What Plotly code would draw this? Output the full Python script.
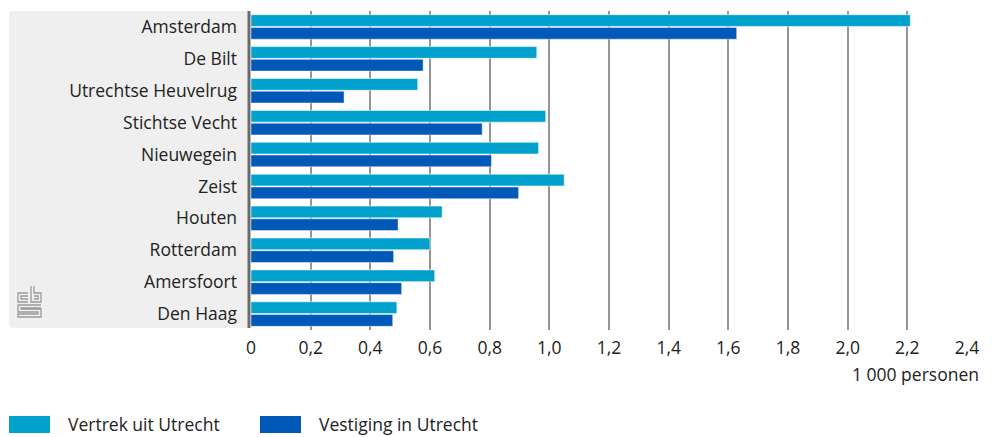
import plotly.graph_objects as go

# ---- data ----
categories = ["Amsterdam", "De Bilt", "Utrechtse Heuvelrug", "Stichtse Vecht", "Nieuwegein",
              "Zeist", "Houten", "Rotterdam", "Amersfoort", "Den Haag"]
vertrek = [2.21, 0.958, 0.559, 0.988, 0.964, 1.050, 0.641, 0.600, 0.616, 0.489]
vestiging = [1.628, 0.577, 0.312, 0.775, 0.806, 0.897, 0.493, 0.478, 0.505, 0.475]
series_names = ["Vertrek uit Utrecht", "Vestiging in Utrecht"]
x_ticks = [0, 0.2, 0.4, 0.6, 0.8, 1.0, 1.2, 1.4, 1.6, 1.8, 2.0, 2.2, 2.4]
x_unit = "1 000 personen"

# ---- style ----
W, H = 992, 437
ML, MR, MT, MB = 251, 25, 11, 107
PW, PH = W - ML - MR, H - MT - MB
LIGHT, DARK = "#00a1cd", "#0058b8"
FONT = "Open Sans"
FS = 17.5
TXT = "#222222"


def px(x):
    return (x - ML) / PW


def py(y):
    return (H - MB - y) / PH


fig = go.Figure()
fig.add_trace(go.Bar(y=categories, x=vertrek, orientation="h", name=series_names[0],
                     marker=dict(color=LIGHT, line=dict(color="rgba(255,255,255,0.55)", width=1)),
                     showlegend=False))
fig.add_trace(go.Bar(y=categories, x=vestiging, orientation="h", name=series_names[1],
                     marker=dict(color=DARK, line=dict(color="rgba(255,255,255,0.45)", width=1)),
                     showlegend=False))

shapes = []
# grey label panel with rounded corners
x0, x1, y0, y1, r = 9, 250, 11, 328, 5
path = (f"M {px(x0 + r)},{py(y0)} L {px(x1)},{py(y0)} L {px(x1)},{py(y1)} L {px(x0 + r)},{py(y1)} "
        f"Q {px(x0)},{py(y1)} {px(x0)},{py(y1 - r)} L {px(x0)},{py(y0 + r)} "
        f"Q {px(x0)},{py(y0)} {px(x0 + r)},{py(y0)} Z")
shapes.append(dict(type="path", xref="paper", yref="paper", path=path,
                   fillcolor="#efefef", line=dict(width=0), layer="below"))
# left axis bar
shapes.append(dict(type="line", xref="paper", yref="paper", x0=px(249), x1=px(249),
                   y0=py(11), y1=py(328), line=dict(color="#6b6b6b", width=3)))

# cbs logo (approximation)
logo_paths = [
    [(28, 293), (18, 293), (18, 302), (28, 302)],
    [(28, 296), (21, 296), (21, 299), (28, 299)],
    [(31, 286), (31, 302), (41, 302), (41, 293), (34, 293), (34, 286)],
    [(34, 296), (38, 296), (38, 299), (34, 299)],
    [(41, 305), (18, 305), (18, 312), (38, 312), (38, 314), (18, 314), (18, 317), (41, 317), (41, 309), (21, 309), (21, 308), (41, 308)],
]
for pts in logo_paths:
    d = "M " + " L ".join(f"{px(a)},{py(b)}" for a, b in pts)
    shapes.append(dict(type="path", xref="paper", yref="paper", path=d,
                       line=dict(color="#9b9b9b", width=1.3)))

# legend swatches
legend_items = [(9, 50, 66, LIGHT, series_names[0]), (260, 301, 317, DARK, series_names[1])]
annotations = []
for sx0, sx1, tx, col, name in legend_items:
    shapes.append(dict(type="rect", xref="paper", yref="paper", x0=px(sx0), x1=px(sx1),
                       y0=py(416), y1=py(433), fillcolor=col, line=dict(width=0)))
    annotations.append(dict(x=px(tx), y=py(424), xref="paper", yref="paper", text=name,
                            showarrow=False, xanchor="left", yanchor="middle",
                            font=dict(family=FONT, size=FS, color=TXT)))

annotations.append(dict(x=px(981), y=py(374), xref="paper", yref="paper", text=x_unit,
                        showarrow=False, xanchor="right", yanchor="middle",
                        font=dict(family=FONT, size=FS, color=TXT)))

fig.update_layout(
    width=W, height=H,
    margin=dict(l=ML, r=MR, t=MT, b=MB, pad=0),
    paper_bgcolor="white", plot_bgcolor="white",
    barmode="group", bargap=0.2, bargroupgap=0.08,
    separators=",.",
    font=dict(family=FONT, size=FS, color=TXT),
    shapes=shapes, annotations=annotations,
    showlegend=False,
    xaxis=dict(range=[0, 2.4], tickvals=x_ticks,
               ticktext=["0"] + [f"{v:.1f}".replace(".", ",") for v in x_ticks[1:]],
               showgrid=True, gridcolor="#959595", gridwidth=1.5,
               zeroline=False, showline=False, ticks="", ticklabelstandoff=5,
               tickfont=dict(family=FONT, size=FS, color=TXT), fixedrange=True),
    yaxis=dict(autorange="reversed", showgrid=False, zeroline=False, showline=False,
               ticks="", ticklabelstandoff=13,
               tickfont=dict(family=FONT, size=FS, color=TXT), fixedrange=True),
)

fig.write_html("out.html", config={"displayModeBar": False},
               post_script="document.body.style.margin='0';document.body.style.overflow='hidden';")
